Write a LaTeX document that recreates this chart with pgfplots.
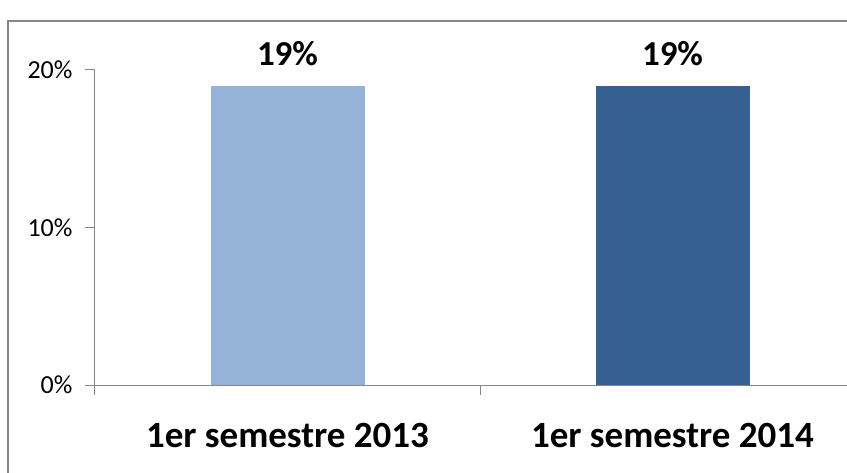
\documentclass[border=0pt]{standalone}
\usepackage{fontspec}
\setmainfont{Carlito}
\usepackage{pgfplots}
\pgfplotsset{compat=1.18}
\definecolor{barA}{HTML}{95B3D7}
\definecolor{barB}{HTML}{376092}
\definecolor{axgray}{HTML}{868686}
\begin{document}
\begin{tikzpicture}[x=1pt,y=1pt]
\useasboundingbox (0,0) rectangle (847,472);
\draw[axgray, line width=1.5pt] (8,451) rectangle (890,-40);
\begin{axis}[at={(95pt,87pt)}, anchor=south west, scale only axis,
  width=770pt, height=315pt,
  xmin=-0.5, xmax=1.5, ymin=0, ymax=20,
  axis x line=bottom, axis y line=left,
  axis line style={axgray, line width=1pt, -},
  /pgf/number format/assume math mode=true,
  ytick={0,10,20}, yticklabels={0\%,10\%,20\%},
  yticklabel style={font=\fontsize{26}{30}\selectfont, xshift=-9pt},
  tick style={axgray, line width=1pt}, tick align=outside, major tick length=10pt,
  xtick={-0.5,0.5,1.5}, xticklabels={,,},
  extra x ticks={0,1},
  extra x tick labels={1er semestre 2013,1er semestre 2014},
  extra x tick style={major tick length=0pt,
    xticklabel style={font=\bfseries\fontsize{37}{44}\selectfont, yshift=-35pt}},
  ybar, bar width=0.4, bar shift=0pt,
  nodes near coords={\pgfmathprintnumber{\pgfplotspointmeta}\%},
  nodes near coords style={font=\bfseries\fontsize{35}{42}\selectfont, black, yshift=16pt},
  clip=false]
\addplot[fill=barA, draw=none] coordinates {(0,19)};
\addplot[fill=barB, draw=none] coordinates {(1,19)};
\end{axis}
\end{tikzpicture}
\end{document}
